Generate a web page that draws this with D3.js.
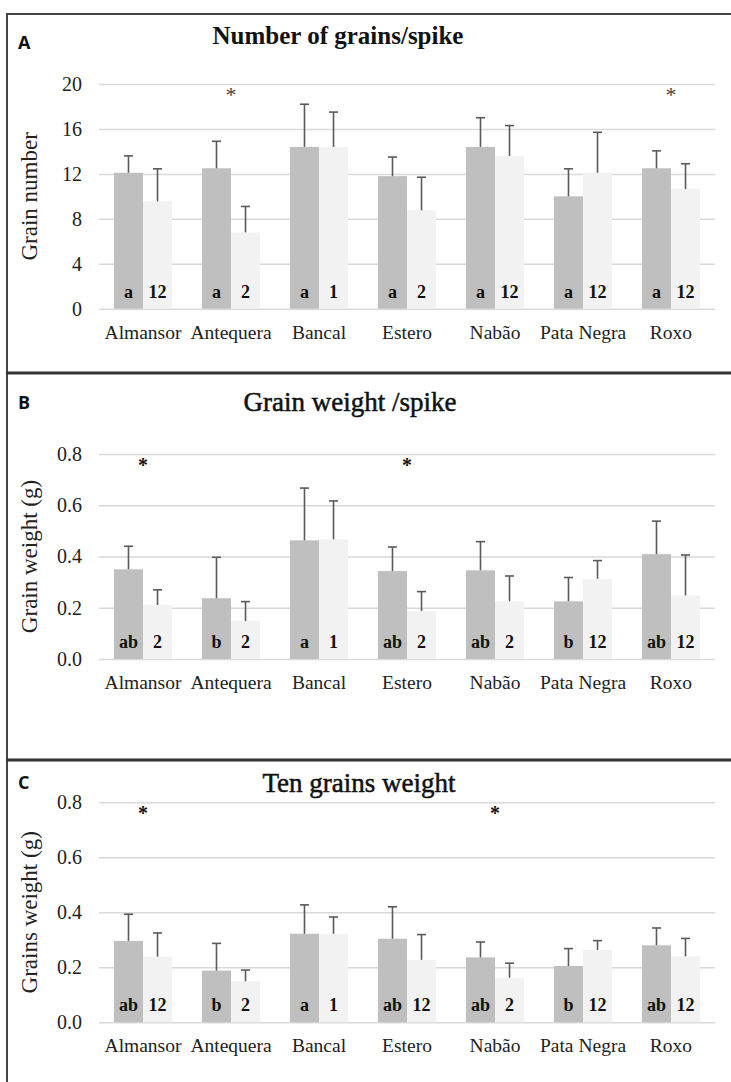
<!DOCTYPE html>
<html>
<head>
<meta charset="utf-8">
<script src="https://cdn.jsdelivr.net/npm/d3@7"></script>
<style>
  html, body { margin: 0; padding: 0; background: #fff; }
  svg { display: block; }
</style>
</head>
<body>
<script>
// Wheat varieties shown on every panel
const varieties = ["Almansor", "Antequera", "Bancal", "Estero", "Nabão", "Pata Negra", "Roxo"];

// A: number of grains per spike (mean and SD), two conditions
const grainsDark = [12.1, 12.5, 14.4, 11.8, 14.4, 10.0, 12.5];
const grainsDarkSD = [1.5, 2.4, 3.8, 1.7, 2.6, 2.45, 1.55];
const grainsLight = [9.55, 6.8, 14.4, 8.75, 13.6, 12.1, 10.65];
const grainsLightSD = [2.9, 2.3, 3.1, 2.95, 2.7, 3.6, 2.25];
const grainsTicks = [0, 4, 8, 12, 16, 20];
const grainsLetters = ["a", "a", "a", "a", "a", "a", "a"];
const grainsGroups = ["12", "2", "1", "2", "12", "12", "12"];
const grainsStars = ["Antequera", "Roxo"];

// B: grain weight per spike (g)
const weightDark = [0.35, 0.237, 0.463, 0.343, 0.346, 0.225, 0.409];
const weightDarkSD = [0.09, 0.16, 0.204, 0.094, 0.112, 0.093, 0.129];
const weightLight = [0.211, 0.148, 0.467, 0.187, 0.225, 0.313, 0.248];
const weightLightSD = [0.059, 0.076, 0.15, 0.076, 0.099, 0.071, 0.158];
const weightTicks = [0, 0.2, 0.4, 0.6, 0.8];
const weightLetters = ["ab", "b", "a", "ab", "ab", "b", "ab"];
const weightGroups = ["2", "2", "1", "2", "2", "12", "12"];
const weightStars = ["Almansor", "Estero"];

// C: weight of ten grains (g)
const tenDark = [0.296, 0.188, 0.322, 0.304, 0.236, 0.205, 0.28];
const tenDarkSD = [0.097, 0.099, 0.105, 0.116, 0.056, 0.063, 0.063];
const tenLight = [0.239, 0.149, 0.322, 0.227, 0.162, 0.263, 0.24];
const tenLightSD = [0.086, 0.041, 0.061, 0.092, 0.053, 0.034, 0.065];
const tenTicks = [0, 0.2, 0.4, 0.6, 0.8];
const tenLetters = ["ab", "b", "a", "ab", "ab", "b", "ab"];
const tenGroups = ["12", "2", "1", "12", "2", "12", "12"];
const tenStars = ["Almansor", "Nabão"];

const SERIF = "'Liberation Serif', 'Times New Roman', serif";
const W = 731, H = 1082;
const svg = d3.select("body").append("svg").attr("width", W).attr("height", H);

// outer frame (top and left edges) and panel separators
svg.append("line").attr("x1", 7).attr("x2", W).attr("y1", 14).attr("y2", 14)
  .attr("stroke", "#454545").attr("stroke-width", 2);
svg.append("line").attr("x1", 7).attr("x2", 7).attr("y1", 13).attr("y2", H)
  .attr("stroke", "#454545").attr("stroke-width", 2);
[373, 760].forEach(yy => {
  svg.append("line").attr("x1", 6).attr("x2", W).attr("y1", yy).attr("y2", yy)
    .attr("stroke", "#333").attr("stroke-width", 3);
});

const x = d3.scaleBand().domain(varieties).range([99, 715])
  .paddingInner(0.34).paddingOuter(0.17);
const xs = d3.scaleBand().domain(["dark", "light"]).range([0, x.bandwidth()]);

function serifText(sel, size, weight, fill) {
  return sel.style("font-family", SERIF).style("font-size", size + "px")
    .style("font-weight", weight).style("fill", fill);
}

function drawPanel(p) {
  const g = svg.append("g");
  const y = d3.scaleLinear().domain([0, d3.max(p.ticks)]).range([p.bottom, p.top]);

  // panel tag and title
  g.append("text").attr("x", 18).attr("y", p.tagY).text(p.tag)
    .style("font-family", "'Open Sans', 'DejaVu Sans', sans-serif")
    .style("font-weight", 700).style("font-size", "18px").style("fill", "#111");
  serifText(g.append("text").attr("x", p.titleX).attr("y", p.titleY).attr("text-anchor", "middle")
    .text(p.title), p.titleSize, p.titleWeight, "#111")
    .attr("stroke", p.titleStroke ? "#111" : null).attr("stroke-width", p.titleStroke || null);

  // horizontal gridlines through the axis
  const axis = d3.axisLeft(y).tickValues(p.ticks).tickFormat(p.fmt)
    .tickSize(-(715 - 99)).tickPadding(17);
  const ag = g.append("g").attr("transform", "translate(99,0)").call(axis);
  ag.attr("font-family", null);
  ag.select(".domain").remove();
  ag.selectAll(".tick line").attr("stroke", "#d9d9d9").attr("stroke-width", 1.5);
  serifText(ag.selectAll(".tick text"), 20, 400, "#222").attr("fill", null);

  // y-axis title
  serifText(g.append("text")
    .attr("transform", `translate(37,${(p.top + p.bottom) / 2}) rotate(-90)`)
    .attr("text-anchor", "middle").text(p.yTitle), 23, 400, "#222");

  const rows = varieties.map((v, i) => ({
    v, i,
    bars: [
      { k: "dark", m: p.dark[i], sd: p.darkSD[i], lab: p.letters[i], fill: "#bfbfbf" },
      { k: "light", m: p.light[i], sd: p.lightSD[i], lab: p.groups[i], fill: "#f2f2f2" }
    ]
  }));

  const grp = g.selectAll(".grp").data(rows).enter().append("g")
    .attr("transform", d => `translate(${x(d.v)},0)`);

  const bar = grp.selectAll(".bar").data(d => d.bars).enter().append("g");
  const cx = d => xs(d.k) + xs.bandwidth() / 2;
  bar.append("rect")
    .attr("x", d => xs(d.k)).attr("width", xs.bandwidth())
    .attr("y", d => y(d.m)).attr("height", d => y(0) - y(d.m))
    .attr("fill", d => d.fill);
  // upper error bars
  bar.append("line")
    .attr("x1", cx).attr("x2", cx)
    .attr("y1", d => y(d.m)).attr("y2", d => y(d.m + d.sd))
    .attr("stroke", "#5a5a5a").attr("stroke-width", 1.6);
  bar.append("line")
    .attr("x1", d => cx(d) - 4.5).attr("x2", d => cx(d) + 4.5)
    .attr("y1", d => y(d.m + d.sd)).attr("y2", d => y(d.m + d.sd))
    .attr("stroke", "#5a5a5a").attr("stroke-width", 1.6);
  // significance letters / group codes
  serifText(bar.append("text")
    .attr("x", cx).attr("y", y(0) - 11)
    .attr("text-anchor", "middle").text(d => d.lab), 18, 700, "#111");

  // category labels
  serifText(g.selectAll(".cat").data(varieties).enter().append("text")
    .attr("x", d => x(d) + x.bandwidth() / 2).attr("y", y(0) + 30)
    .attr("text-anchor", "middle").text(d => d), 19.5, 400, "#222");

  // asterisks
  serifText(g.selectAll(".star").data(p.stars).enter().append("text")
    .attr("x", d => x(d) + x.bandwidth() / 2).attr("y", y.range()[1] + 18)
    .attr("text-anchor", "middle").text("*"), p.starSize, p.starWeight, p.starFill);
}

drawPanel({
  tag: "A", tagY: 49, title: "Number of grains/spike", titleX: 338, titleY: 44, titleSize: 25, titleWeight: 700,
  top: 84, bottom: 308.7, ticks: grainsTicks, fmt: d3.format("d"), yTitle: "Grain number",
  dark: grainsDark, darkSD: grainsDarkSD, light: grainsLight, lightSD: grainsLightSD,
  letters: grainsLetters, groups: grainsGroups, stars: grainsStars, starSize: 22, starWeight: 400, starFill: "#444"
});
drawPanel({
  tag: "B", tagY: 409, title: "Grain weight /spike", titleX: 350, titleY: 411, titleSize: 27, titleWeight: 400, titleStroke: 0.5,
  top: 454, bottom: 659, ticks: weightTicks, fmt: d3.format(".1f"), yTitle: "Grain weight (g)",
  dark: weightDark, darkSD: weightDarkSD, light: weightLight, lightSD: weightLightSD,
  letters: weightLetters, groups: weightGroups, stars: weightStars, starSize: 20, starWeight: 700, starFill: "#111"
});
drawPanel({
  tag: "C", tagY: 789, title: "Ten grains weight", titleX: 359, titleY: 792, titleSize: 27, titleWeight: 400, titleStroke: 0.5,
  top: 802.3, bottom: 1022.3, ticks: tenTicks, fmt: d3.format(".1f"), yTitle: "Grains weight (g)",
  dark: tenDark, darkSD: tenDarkSD, light: tenLight, lightSD: tenLightSD,
  letters: tenLetters, groups: tenGroups, stars: tenStars, starSize: 20, starWeight: 700, starFill: "#111"
});
</script>
</body>
</html>
